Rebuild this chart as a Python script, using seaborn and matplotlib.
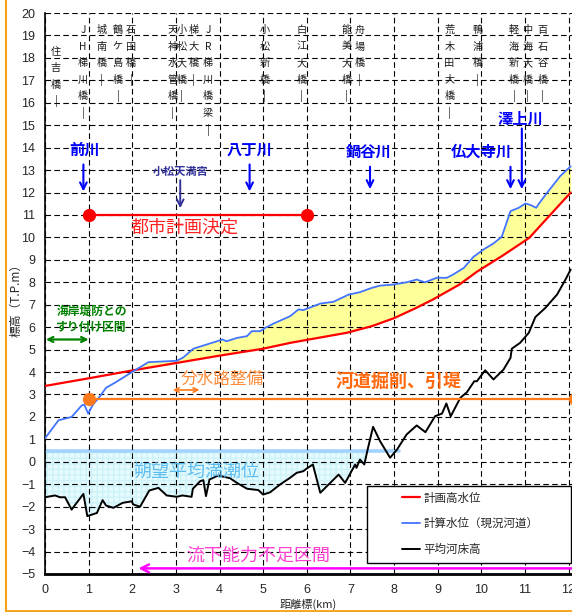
import numpy as np
import pandas as pd
import matplotlib
matplotlib.use('Agg')
import matplotlib.pyplot as plt
import seaborn as sns
from matplotlib.lines import Line2D
from matplotlib.patches import Rectangle

# 計画高水位
red_km = [0, 1, 2, 3, 4, 5, 5.62, 6.92, 7.5, 8.0, 8.5, 8.9, 9.5, 9.9, 10.5, 11.1, 12.05]
red_wl = [3.38, 3.72, 4.07, 4.4, 4.73, 5.04, 5.3, 5.75, 6.05, 6.4, 6.85, 7.24, 7.9, 8.47, 9.2, 9.98, 12.0]

# 計算水位（現況河道）
blue_km = [0, 0.31, 0.61, 0.84, 0.9, 0.99, 1.1, 1.26, 1.4, 1.6, 2.03, 2.37, 3.02, 3.17, 3.4,
           3.71, 3.94, 4.07, 4.16, 4.4, 4.63, 4.74, 4.93, 5.05, 5.24, 5.62, 5.81, 5.92, 6.31,
           6.61, 6.96, 7.22, 7.49, 7.68, 7.99, 8.29, 8.52, 8.71, 8.98, 9.21, 9.36, 9.6, 9.82,
           10.05, 10.28, 10.47, 10.67, 10.86, 11.01, 11.12, 11.26, 11.32, 11.51, 11.81, 12.05]
blue_wl = [1.05, 1.85, 2.0, 2.51, 2.55, 2.15, 2.55, 2.92, 3.3, 3.52, 4.04, 4.44, 4.5, 4.65, 5.04,
           5.23, 5.37, 5.45, 5.37, 5.52, 5.6, 5.82, 5.82, 5.97, 6.16, 6.49, 6.79, 6.76, 7.05,
           7.13, 7.45, 7.56, 7.75, 7.85, 7.9, 8.0, 8.12, 8.0, 8.2, 8.2, 8.35, 8.64, 9.13,
           9.46, 9.73, 10.03, 11.17, 11.32, 11.51, 11.45, 11.32, 11.5, 11.99, 12.73, 13.17]

# 平均河床高
bed_km = [0, 0.23, 0.34, 0.46, 0.61, 0.88, 0.97, 1.19, 1.32, 1.4, 1.57, 1.78, 1.99, 2.02, 2.18,
          2.39, 2.6, 2.79, 3.02, 3.15, 3.36, 3.39, 3.56, 3.63, 3.69, 3.77, 3.97, 4.24, 4.4,
          4.63, 4.89, 5.0, 5.16, 5.39, 5.62, 5.77, 5.92, 6.0, 6.14, 6.31, 6.73, 6.88, 7.11,
          7.14, 7.22, 7.32, 7.39, 7.52, 7.68, 7.91, 8.07, 8.29, 8.52, 8.72, 8.94, 9.1, 9.2,
          9.3, 9.52, 9.67, 9.84, 9.9, 10.09, 10.28, 10.51, 10.67, 10.7, 10.89, 11.09, 11.24,
          11.47, 11.74, 11.93, 12.05]
bed_el = [-1.58, -1.5, -1.58, -1.58, -2.13, -1.43, -2.42, -2.28, -1.71, -1.95, -2.05, -1.83,
          -1.76, -1.9, -2.0, -1.28, -1.16, -1.5, -1.56, -1.5, -1.56, -1.2, -0.86, -0.82, -1.53,
          -0.79, -0.61, -0.73, -0.94, -1.2, -1.26, -1.46, -1.36, -1.01, -0.71, -0.49, -0.42,
          -0.3, -0.12, -1.38, -0.57, -0.94, -0.12, -0.27, 0.1, -0.12, 0.5, 1.56, 0.92, 0.18,
          0.55, 1.22, 1.62, 1.32, 2.03, 2.15, 2.6, 2.03, 2.85, 3.1, 3.59, 3.59, 4.08, 3.67,
          4.11, 4.63, 5.04, 5.3, 5.75, 6.45, 6.86, 7.46, 8.12, 8.57]

# 橋梁名
bridge_names = ['住吉橋', 'JH梯川橋', '城南橋', '鶴ケ島橋', '石田橋', '天神水管橋', '小松大橋',
                '梯大橋', 'JR梯川橋梁', '小松新橋', '白江大橋', '能美大橋', '舟場橋',
                '荒木田大橋', '鴨浦橋', '軽海新橋', '中海大橋', '百石谷橋']
bridge_km = [0.25, 0.87, 1.3, 1.67, 1.97, 2.92, 3.13, 3.4, 3.74, 5.03, 5.88, 6.91, 7.21,
             9.27, 9.91, 10.75, 11.06, 11.41]
bridge_top = [18.28, 19.24, 19.24, 19.24, 19.24, 19.24, 19.24, 19.24, 19.24, 19.24, 19.24,
              19.24, 19.24, 19.24, 19.24, 19.24, 19.24, 19.24]

# 支川
trib_names = ['前川', '八丁川', '鍋谷川', '仏大寺川', '澤上川']
trib_text_km = [0.9, 4.68, 7.43, 10.0, 10.89]
trib_text_y = [13.9, 13.9, 13.8, 13.8, 15.3]
trib_arrow_km = [0.88, 4.69, 7.45, 10.67, 10.93]
trib_arrow_top = [13.25, 13.25, 13.15, 13.15, 14.85]
trib_arrow_end = [12.05, 12.05, 12.15, 12.15, 12.15]

hwl_level = 0.5        # 朔望平均満潮位
hwl_end_km = 8.12
city_level = 11.0      # 都市計画決定
city_km = [1, 6]
dig_level = 2.8        # 河道掘削、引堤
dig_km = [1, 12.15]

df_red = pd.DataFrame({'km': red_km, 'level': red_wl})
df_blue = pd.DataFrame({'km': blue_km, 'level': blue_wl})
df_bed = pd.DataFrame({'km': bed_km, 'level': bed_el})

sns.set_style('white')
plt.rcParams['font.family'] = ['Noto Sans CJK JP', 'DejaVu Sans']
num_font = ['Liberation Sans Narrow', 'Liberation Sans', 'DejaVu Sans']

fig = plt.figure(figsize=(5.72, 6.12), dpi=100)
ax = fig.add_axes([45 / 572, 1 - 574 / 612, 527 / 572, 561 / 612])

# fills
xs = np.linspace(0, 12.05, 1500)
red_i = np.interp(xs, red_km, red_wl)
blue_i = np.interp(xs, blue_km, blue_wl)
bed_i = np.interp(xs, bed_km, bed_el)
ax.fill_between(xs, red_i, blue_i, where=blue_i > red_i, interpolate=True,
                color='#ffff99', lw=0, zorder=1)
ax.fill_between(xs, bed_i, hwl_level, where=(bed_i < hwl_level) & (xs <= 7.39),
                interpolate=True, facecolor='#e6fbfe', edgecolor='#cdf2f8',
                hatch='+++', lw=0, zorder=1)

ax.plot([0, hwl_end_km], [hwl_level, hwl_level], color='#a3d3ff', lw=2.6, zorder=2)

sns.lineplot(data=df_red, x='km', y='level', color='#ff0000', lw=1.6, ax=ax,
             estimator=None, sort=False, label='計画高水位', zorder=4)
sns.lineplot(data=df_blue, x='km', y='level', color='#4274ff', lw=1.3, ax=ax,
             estimator=None, sort=False, label='計算水位（現況河道）', zorder=4)
sns.lineplot(data=df_bed, x='km', y='level', color='black', lw=1.4, ax=ax,
             estimator=None, sort=False, label='平均河床高', zorder=4)

# 都市計画決定
ax.plot(city_km, [city_level, city_level], color='#ff0000', lw=1.6, zorder=4)
ax.plot(city_km, [city_level, city_level], 'o', color='#ff0000', ms=8.5, zorder=5)
ax.text(3.21, 10.44, '都市計画決定', color='#ff2020', fontsize=13, ha='center', va='center',
        zorder=5)

# 河道掘削、引堤
ax.plot(dig_km, [dig_level, dig_level], color='#ff7a1a', lw=1.6, zorder=4, clip_on=False)
ax.plot(dig_km, [dig_level, dig_level], 'o', color='#ff7a1a', ms=8.5, zorder=5, clip_on=False)
ax.text(8.1, 3.59, '河道掘削、引堤', color='#ff6a10', fontsize=13, fontweight='bold',
        ha='center', va='center', zorder=5)
ax.text(4.05, 3.67, '分水路整備', color='#ff8c3a', fontsize=12, ha='center', va='center',
        zorder=5)
ax.annotate('', xy=(2.93, 3.2), xytext=(3.54, 3.2),
            arrowprops=dict(arrowstyle='<->', color='#ff7a1a', lw=1.2,
                            shrinkA=0, shrinkB=0, mutation_scale=8))

# 海岸堤防
ax.text(1.07, 6.35, '海岸堤防との\nすり付け区間', color='#008000', fontsize=8.5,
        fontweight='bold', ha='center', va='center', linespacing=1.3, zorder=5)
ax.annotate('', xy=(0.02, 5.45), xytext=(1.0, 5.45),
            arrowprops=dict(arrowstyle='<->', color='#008000', lw=1.6,
                            shrinkA=0, shrinkB=0, mutation_scale=9))

ax.text(3.46, -0.46, '朔望平均満潮位', color='#5cbcf0', fontsize=13, ha='center',
        va='center', zorder=5)
ax.text(4.9, -4.2, '流下能力不足区間', color='#ff40d0', fontsize=13, ha='center',
        va='center', zorder=5)
ax.annotate('', xy=(2.14, -4.75), xytext=(12.1, -4.75),
            arrowprops=dict(arrowstyle='->', color='#ff00ff', lw=1.8,
                            shrinkA=0, shrinkB=0, mutation_scale=14))

# 支川
for name, tx, ty, axk, a0, a1 in zip(trib_names, trib_text_km, trib_text_y,
                                     trib_arrow_km, trib_arrow_top, trib_arrow_end):
    ax.text(tx, ty, name, color='#0000ff', fontsize=11, fontweight='bold',
            ha='center', va='center', zorder=5)
    ax.annotate('', xy=(axk, a1), xytext=(axk, a0),
                arrowprops=dict(arrowstyle='->', color='#0000ff', lw=1.5,
                                shrinkA=0, shrinkB=0, mutation_scale=12))
ax.text(3.1, 12.95, '小松天満宮', color='#333399', fontsize=8, fontweight='bold',
        style='italic', ha='center', va='center', zorder=5)
ax.annotate('', xy=(3.1, 11.3), xytext=(3.1, 12.55),
            arrowprops=dict(arrowstyle='->', color='#333399', lw=1.4,
                            shrinkA=0, shrinkB=0, mutation_scale=12))

# 橋梁名（縦書き）
for name, km, top in zip(bridge_names, bridge_km, bridge_top):
    for i, ch in enumerate(list(name) + ['|']):
        ax.text(km, top - i * 0.74, ch, fontsize=7.3, ha='center', va='center',
                color='#1a1a1a', zorder=5)

# axes
ax.set_xlim(0, 12.08)
ax.set_ylim(-5, 20)
ax.set_xticks(range(0, 13))
ax.set_yticks(range(-5, 21))
ax.set_xticks(np.arange(0, 12.05, 0.2), minor=True)
ax.grid(True, which='major', color='black', linestyle=(0, (5, 3)), linewidth=0.8)
ax.set_axisbelow(False)
ax.tick_params(axis='both', which='major', direction='in', length=4, width=1,
               labelsize=9)
ax.tick_params(axis='x', which='major', pad=7.5)
ax.tick_params(axis='y', which='major', pad=7)
ax.tick_params(axis='x', which='minor', direction='in', length=3, width=0.8)
for lab in ax.get_xticklabels() + ax.get_yticklabels():
    lab.set_family(num_font)
for s in ['top', 'right']:
    ax.spines[s].set_visible(False)
ax.spines['left'].set_linewidth(1.2)
ax.spines['bottom'].set_linewidth(2)
ax.spines['left'].set_color('black')
ax.spines['bottom'].set_color('black')

ax.set_xlabel('距離標(km)', fontsize=8)
ax.xaxis.set_label_coords(0.5, -0.045)
ax.set_ylabel('標高（T.P.m）', fontsize=8.5)
ax.yaxis.set_label_coords(-0.042, 0.493)

# legend
ax.add_patch(Rectangle((0.611, 0.0196), 0.387, 0.137, transform=ax.transAxes,
                       facecolor='white', edgecolor='black', lw=1, zorder=6))
handles, labels = ax.get_legend_handles_labels()
leg = ax.legend(handles, labels, loc='upper left', bbox_to_anchor=(0.677, 0.147),
                frameon=False, fontsize=8.3, handlelength=1.6, handletextpad=0.3,
                labelspacing=1.1, borderpad=0, borderaxespad=0)
leg.set_zorder(7)

# outer border
fig.add_artist(Line2D([5.5 / 572, 5.5 / 572], [0, 1], color='#f5a31a', lw=1.5,
                      transform=fig.transFigure))
fig.add_artist(Line2D([5.5 / 572, 1], [1.2 / 612, 1.2 / 612], color='#f5a31a', lw=2,
                      transform=fig.transFigure))

plt.savefig('out.png', dpi=100)
plt.close()
